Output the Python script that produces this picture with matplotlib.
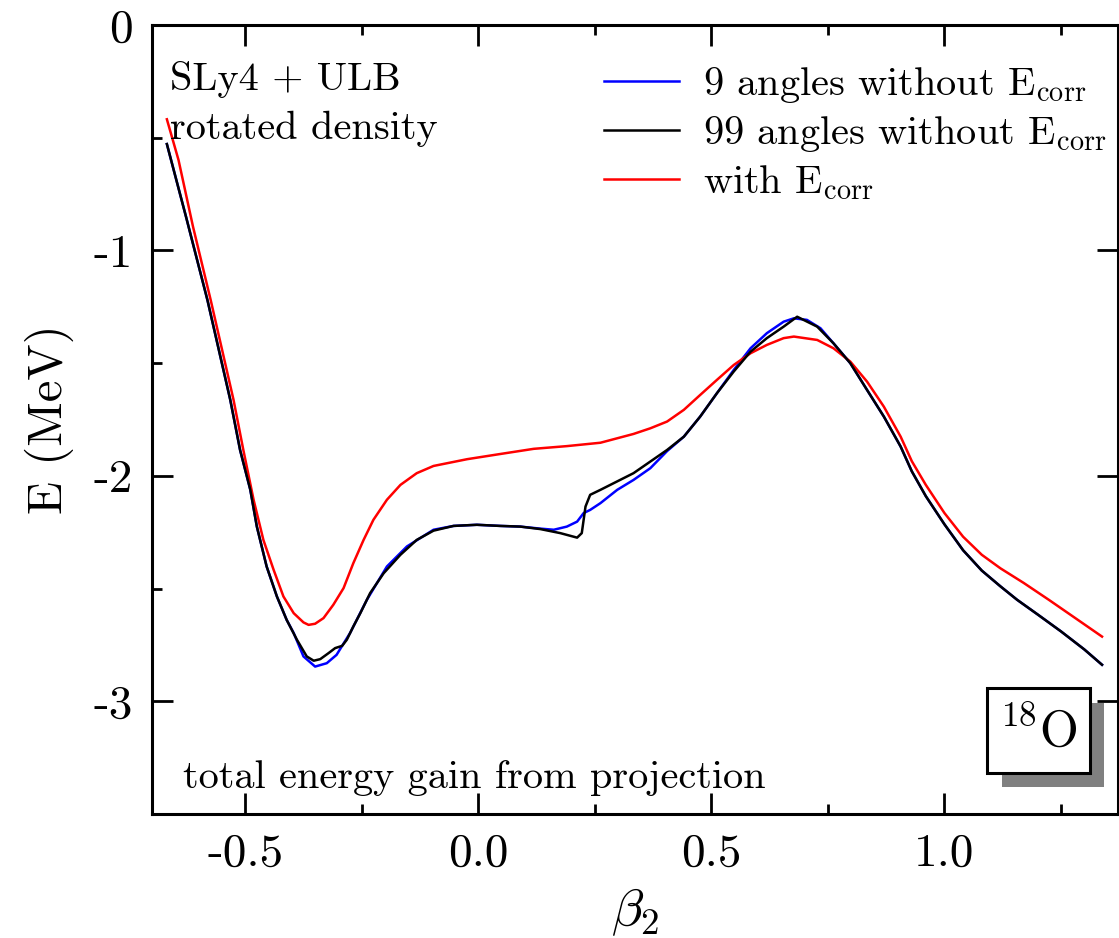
import matplotlib
matplotlib.use("Agg")
import matplotlib.pyplot as plt
from matplotlib.patches import Rectangle
from matplotlib.ticker import MultipleLocator, FixedLocator, FixedFormatter

plt.rcParams['font.family'] = 'cmr10'
plt.rcParams['mathtext.fontset'] = 'cm'
plt.rcParams['axes.unicode_minus'] = False

# ---- data ----
beta_99 = [-0.668, -0.627, -0.581, -0.532, -0.511, -0.489, -0.475, -0.454, -0.432, -0.411,
           -0.389, -0.368, -0.353, -0.339, -0.321, -0.307, -0.292, -0.282, -0.268, -0.253,
           -0.232, -0.203, -0.167, -0.132, -0.096, -0.053, -0.003, 0.047, 0.090, 0.133,
           0.176, 0.212, 0.222, 0.230, 0.240, 0.262, 0.333, 0.405, 0.441, 0.476,
           0.512, 0.548, 0.584, 0.619, 0.655, 0.684, 0.727, 0.762, 0.798, 0.834,
           0.870, 0.906, 0.930, 0.960, 1.000, 1.040, 1.080, 1.120, 1.156, 1.200,
           1.250, 1.300, 1.338]
E_99 = [-0.528, -0.850, -1.220, -1.663, -1.885, -2.062, -2.225, -2.402, -2.535, -2.639,
        -2.727, -2.801, -2.820, -2.813, -2.786, -2.764, -2.754, -2.727, -2.668, -2.609,
        -2.520, -2.432, -2.350, -2.284, -2.243, -2.222, -2.217, -2.222, -2.225, -2.236,
        -2.254, -2.274, -2.254, -2.136, -2.084, -2.062, -1.988, -1.885, -1.826, -1.737,
        -1.633, -1.537, -1.449, -1.389, -1.338, -1.294, -1.338, -1.412, -1.500, -1.619,
        -1.737, -1.870, -1.980, -2.090, -2.215, -2.330, -2.420, -2.490, -2.550, -2.615,
        -2.690, -2.770, -2.838]

beta_9 = [-0.668, -0.627, -0.581, -0.532, -0.511, -0.489, -0.475, -0.454, -0.432, -0.411,
          -0.396, -0.375, -0.350, -0.325, -0.304, -0.275, -0.239, -0.196, -0.153, -0.096,
          -0.053, -0.003, 0.047, 0.090, 0.133, 0.162, 0.190, 0.212, 0.226, 0.240,
          0.262, 0.298, 0.333, 0.369, 0.405, 0.441, 0.476, 0.512, 0.548, 0.584,
          0.619, 0.655, 0.677, 0.705, 0.734, 0.762, 0.798, 0.834, 0.870, 0.906,
          0.930, 0.960, 1.000, 1.040, 1.080, 1.120, 1.156, 1.200, 1.250, 1.300,
          1.338]
E_9 = [-0.528, -0.850, -1.220, -1.663, -1.885, -2.062, -2.225, -2.402, -2.535, -2.639,
       -2.697, -2.801, -2.846, -2.831, -2.794, -2.697, -2.550, -2.402, -2.313, -2.239,
       -2.222, -2.217, -2.222, -2.225, -2.234, -2.239, -2.225, -2.203, -2.165, -2.151,
       -2.121, -2.062, -2.018, -1.966, -1.890, -1.826, -1.737, -1.633, -1.530, -1.434,
       -1.367, -1.316, -1.301, -1.308, -1.345, -1.412, -1.500, -1.619, -1.737, -1.870,
       -1.980, -2.090, -2.215, -2.330, -2.420, -2.490, -2.550, -2.615, -2.690, -2.770,
       -2.838]

beta_corr = [-0.668, -0.643, -0.612, -0.574, -0.525, -0.504, -0.482, -0.461, -0.439, -0.418,
             -0.396, -0.375, -0.364, -0.350, -0.332, -0.311, -0.289, -0.268, -0.246, -0.225,
             -0.196, -0.167, -0.132, -0.096, -0.024, 0.047, 0.119, 0.190, 0.262, 0.333,
             0.369, 0.405, 0.441, 0.476, 0.512, 0.548, 0.584, 0.619, 0.655, 0.677,
             0.727, 0.762, 0.798, 0.834, 0.870, 0.906, 0.930, 0.960, 1.000, 1.040,
             1.080, 1.120, 1.170, 1.224, 1.280, 1.338]
E_corr = [-0.418, -0.599, -0.894, -1.220, -1.663, -1.885, -2.106, -2.284, -2.417, -2.535,
          -2.609, -2.650, -2.661, -2.656, -2.631, -2.572, -2.498, -2.387, -2.284, -2.195,
          -2.106, -2.040, -1.988, -1.956, -1.926, -1.903, -1.880, -1.868, -1.853, -1.814,
          -1.789, -1.759, -1.707, -1.641, -1.574, -1.508, -1.456, -1.419, -1.389, -1.382,
          -1.397, -1.434, -1.493, -1.582, -1.693, -1.826, -1.935, -2.040, -2.165, -2.270,
          -2.350, -2.410, -2.475, -2.550, -2.630, -2.713]

x_ticks = [-0.5, 0.0, 0.5, 1.0]
x_tick_labels = ["-0.5", "0.0", "0.5", "1.0"]
y_ticks = [0, -1, -2, -3]
y_tick_labels = ["0", "-1", "-2", "-3"]

# ---- figure ----
fig = plt.figure(figsize=(11.19, 9.38), dpi=100)
ax = fig.add_axes([0.1358, 0.1322, 0.8632, 0.8411])

lw = 1.8
ax.plot(beta_9, E_9, color='#0000ff', lw=lw, label=r'9 angles without $\mathrm{E}_{\mathrm{corr}}$', zorder=3)
ax.plot(beta_99, E_99, color='black', lw=lw, label=r'99 angles without $\mathrm{E}_{\mathrm{corr}}$', zorder=4)
ax.plot(beta_corr, E_corr, color='#ff0000', lw=lw, label=r'with $\mathrm{E}_{\mathrm{corr}}$', zorder=3)

ax.set_xlim(-0.7, 1.372)
ax.set_ylim(-3.5, 0)

ax.xaxis.set_major_locator(FixedLocator(x_ticks))
ax.xaxis.set_major_formatter(FixedFormatter(x_tick_labels))
ax.xaxis.set_minor_locator(MultipleLocator(0.25))
ax.yaxis.set_major_locator(FixedLocator(y_ticks))
ax.yaxis.set_major_formatter(FixedFormatter(y_tick_labels))
ax.yaxis.set_minor_locator(MultipleLocator(0.5))

for s in ax.spines.values():
    s.set_linewidth(2.2)
ax.tick_params(which='both', direction='in', top=True, right=True, width=2.0, labelsize=34, pad=14)
ax.tick_params(which='major', length=15)
ax.tick_params(which='minor', length=7.5)
ax.tick_params(axis='y', which='minor', right=False)

ax.set_xlabel(r'$\beta_2$', fontsize=38, labelpad=8)
ax.set_ylabel('E (MeV)', fontsize=35, labelpad=14)

ax.text(0.019, 0.918, 'SLy4 + ULB', transform=ax.transAxes, fontsize=29, va='baseline')
ax.text(0.019, 0.855, 'rotated density', transform=ax.transAxes, fontsize=29, va='baseline')
ax.text(0.032, 0.033, 'total energy gain from projection', transform=ax.transAxes, fontsize=29, va='baseline')

leg = ax.legend(loc='upper left', bbox_to_anchor=(0.435, 0.99), frameon=False, fontsize=29,
                handlelength=1.85, handletextpad=0.6, labelspacing=0.22, borderpad=0.3)

# nucleus label box with shadow
ax.add_patch(Rectangle((0.880, 0.034), 0.1055, 0.107, transform=ax.transAxes,
                       facecolor='#808080', edgecolor='none', zorder=5))
ax.add_patch(Rectangle((0.865, 0.052), 0.106, 0.108, transform=ax.transAxes,
                       facecolor='white', edgecolor='black', lw=2.2, zorder=6))
ax.text(0.918, 0.104, r'$^{18}\mathrm{O}$', transform=ax.transAxes, fontsize=36,
        ha='center', va='center', zorder=7)

fig.savefig('out.png', dpi=100)
